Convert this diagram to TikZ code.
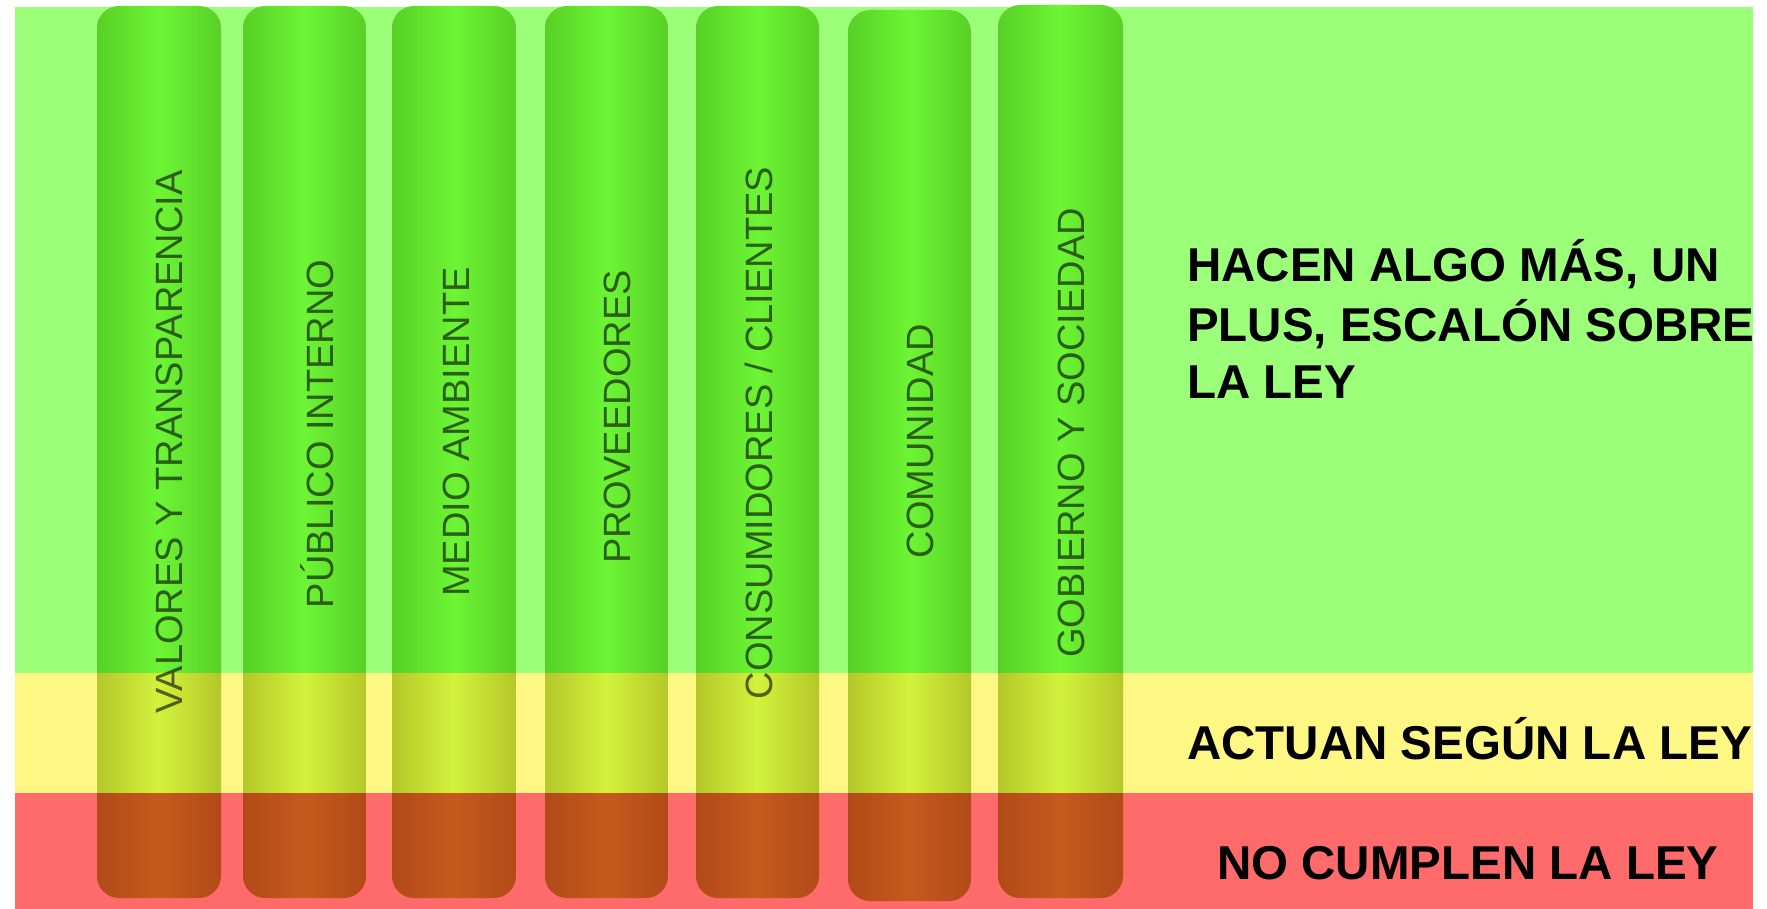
\documentclass[tikz,border=0pt]{standalone}
\usepackage{fontspec}
\setmainfont{Liberation Sans}
\definecolor{bandgreen}{HTML}{9CFF7A}
\definecolor{bandyellow}{HTML}{FFF783}
\definecolor{bandred}{HTML}{FF6B6B}
\definecolor{gE}{HTML}{58D025}
\definecolor{gC}{HTML}{6DF535}
\definecolor{yE}{HTML}{B5C72A}
\definecolor{yC}{HTML}{D2F23C}
\definecolor{rE}{HTML}{B24A18}
\definecolor{rC}{HTML}{C65A1E}
\begin{document}
\begin{tikzpicture}[x=1pt,y=-1pt,
  lbl/.style={rotate=90,anchor=base,inner sep=0pt,
    font=\fontsize{38}{44}\selectfont,text=black,text opacity=0.6},
  big/.style={anchor=base west,inner sep=0pt,
    font=\fontsize{47.5}{57.5}\selectfont\bfseries,text=black}]
\useasboundingbox[fill=white] (0,0) rectangle (1767,909);
% bands
\fill[bandgreen]  (15,7)   rectangle (1753,673);
\fill[bandyellow] (15,673) rectangle (1753,793);
\fill[bandred]    (15,793) rectangle (1753,909);
% columns
\foreach \xl/\xr/\yt/\yb in {97/221/6/898, 243/366/6/898, 392/516/6/898,
    545/668/6/898, 696/819/6/898, 848/971/10/901, 998/1123/5/898}{
  \begin{scope}
    \clip[rounded corners=22pt] (\xl,\yt) rectangle (\xr,\yb);
    \shade[left color=gE,right color=gE,middle color=gC] (\xl,\yt) rectangle (\xr,673);
    \shade[left color=yE,right color=yE,middle color=yC] (\xl,673) rectangle (\xr,793);
    \shade[left color=rE,right color=rE,middle color=rC] (\xl,793) rectangle (\xr,\yb);
  \end{scope}
}
% column labels
\node[lbl] (valores)  at (182,442)  {VALORES Y TRANSPARENCIA};
\node[lbl] (publico)  at (333,434)  {PÚBLICO INTERNO};
\node[lbl] (medio)    at (469,432)  {MEDIO AMBIENTE};
\node[lbl] (prov)     at (630,417)  {PROVEEDORES};
\node[lbl] (consum)   at (772,433)  {CONSUMIDORES / CLIENTES};
\node[lbl] (comun)    at (933,441)  {COMUNIDAD};
\node[lbl] (gobierno) at (1084,433) {GOBIERNO Y SOCIEDAD};
% level labels
\node[big] (hacen) at (1187,282)
  {\begin{tabular}[t]{@{}l@{}}HACEN ALGO MÁS, UN\\PLUS, ESCALÓN SOBRE\\LA LEY\end{tabular}};
\node[big] (actuan) at (1187,759) {ACTUAN SEGÚN LA LEY};
\node[big] (nocumplen) at (1217,879) {NO CUMPLEN LA LEY};
\end{tikzpicture}
\end{document}
